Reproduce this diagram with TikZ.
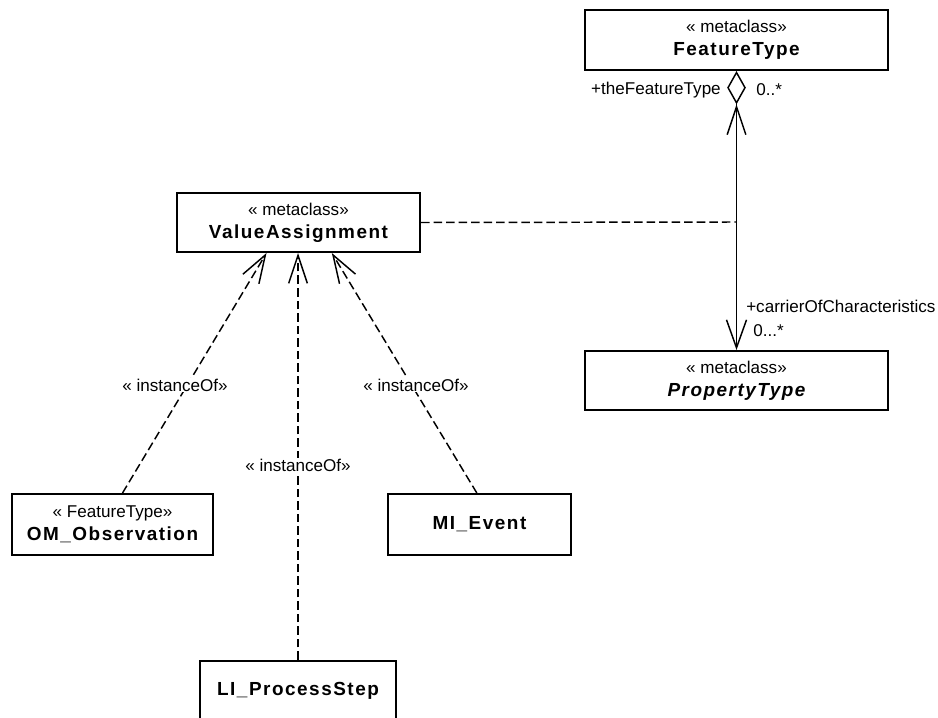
\documentclass[tikz,border=0pt]{standalone}
\usepackage{fontspec}
\setmainfont{Liberation Sans}
\newfontfamily\namefont[LetterSpace=8]{Liberation Sans}
\usetikzlibrary{arrows.meta}

\tikzset{
  umlbox/.style={draw, line width=1.5pt, align=center, inner sep=0.75pt, font=\fontsize{12.8}{17.5}\selectfont},
  instof/.style={line width=1.1pt, dash pattern=on 6.4pt off 3pt, -{Straight Barb[length=21pt,width=14pt]}},
  assoc/.style={line width=1.1pt},
  lbl/.style={inner sep=0.75pt, font=\fontsize{12.8}{15}\selectfont},
}
\newcommand{\umlname}[1]{{\namefont\bfseries\fontsize{14.2}{17.5}\selectfont #1}}

\begin{document}
\begin{tikzpicture}[x=0.75pt,y=0.75pt,yscale=-1,xscale=1]
\useasboundingbox (0,0) rectangle (938,717);

%Shape: Class boxes
\node [umlbox, minimum width=227.25pt, minimum height=45pt] (ft) at (736.5,40) {« metaclass»\\\umlname{FeatureType}};
\node [umlbox, minimum width=182.25pt, minimum height=44.25pt] (va) at (298.5,222.5) {« metaclass»\\\umlname{ValueAssignment}};
\node [umlbox, minimum width=227.25pt, minimum height=44.25pt] (pt) at (736.5,380.5) {« metaclass»\\\umlname{\itshape PropertyType}};
\node [umlbox, minimum width=150.75pt, minimum height=45.75pt] (om) at (112.5,524.5) {« FeatureType»\\\umlname{OM\_Observation}};
\node [umlbox, minimum width=137.25pt, minimum height=45.75pt] (mi) at (479.5,524.5) {\umlname{MI\_Event}};
\node [umlbox, minimum width=147pt, minimum height=45pt] (li) at (298,691) {\umlname{LI\_ProcessStep}};

%Aggregation FeatureType - PropertyType
\draw [assoc, {Diamond[open,length=25pt,width=14pt]Straight Barb[length=21pt,width=14pt]}-{Straight Barb[length=21pt,width=15pt]}] (ft) -- (pt);
\coordinate (ac) at (736,222);
%Association class link
\draw [assoc, dash pattern=on 6.4pt off 3pt] (va.east) -- (ac);

%Dependencies
\draw [instof] ([xshift=7.5pt]om.north) -- ([xshift=-24pt]va.south);
\draw [instof] (li.north) -- (li.north |- va.south);
\draw [instof] ([xshift=-2pt]mi.north) -- ([xshift=25pt]va.south);

% Text Node
\node [lbl, anchor=east] (rolea) at (722,90) {+theFeatureType};
% Text Node
\node [lbl, anchor=west] (multa) at (755,90) {0..*};
% Text Node
\node [lbl, anchor=west] (roleb) at (745,306) {+carrierOfCharacteristics};
% Text Node
\node [lbl, anchor=west] (multb) at (752,331) {0...*};
% Text Node
\node [lbl, fill=white] (io1) at (175,385) {« instanceOf»};
% Text Node
\node [lbl, fill=white] (io2) at (298,465) {« instanceOf»};
% Text Node
\node [lbl, fill=white] (io3) at (416,385) {« instanceOf»};
\end{tikzpicture}
\end{document}
